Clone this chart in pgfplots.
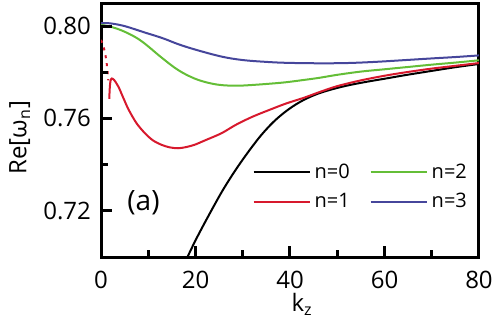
\documentclass[border=0pt]{standalone}
\usepackage{pgfplots}
\pgfplotsset{compat=1.18}
\usepackage{fontspec}
\setmainfont{Open Sans}
\definecolor{cred}{RGB}{215,25,45}
\definecolor{cgreen}{RGB}{100,190,55}
\definecolor{cblue}{RGB}{70,70,155}
\begin{document}
\begin{tikzpicture}
\begin{axis}[
  scale only axis, width=189pt, height=127pt,
  xmin=0, xmax=80, ymin=0.70, ymax=0.81,
  xtick={0,20,40,60,80}, minor xtick={10,30,50,70},
  ytick={0.72,0.76,0.80}, minor ytick={0.74,0.78},
  xtick pos=bottom, ytick pos=left, tick align=inside,
  major tick length=5pt, minor tick length=3.5pt,
  tick style={line width=1.2pt, black},
  clip mode=individual,
  axis line style={line width=1.5pt},
  /pgf/number format/assume math mode=true,
  ticklabel style={font=\fontsize{12}{14}\selectfont},
  yticklabel style={/pgf/number format/fixed,/pgf/number format/fixed zerofill,/pgf/number format/precision=2, xshift=-1.5pt},
  xticklabel style={yshift=-3.5pt},
  xlabel={k\textsubscript{z}},
  ylabel={Re[ω\textsubscript{n}]},
  every axis x label/.style={at={(axis description cs:0.532,-0.215)}, anchor=base, font=\fontsize{12}{14}\selectfont},
  every axis y label/.style={at={(axis description cs:-0.215,0.47)}, rotate=90, anchor=center, font=\fontsize{12}{14}\selectfont},
  legend columns=2,
  legend style={draw=none, fill=none, at={(rel axis cs:0.40,0.385)}, anchor=north west,
    font=\fontsize{10}{12}\selectfont, row sep=2pt, inner sep=0pt,
    /tikz/every even column/.append style={column sep=8pt}},
  legend image code/.code={\draw[#1] (0pt,0pt) -- (28pt,0pt);},
  every axis plot/.append style={line width=1pt},
]
% n=0
\addplot[black, smooth, tension=0.6] coordinates {
(18.3,0.700) (20,0.7072) (22,0.7150) (24.4,0.7240) (26,0.7297)
(28,0.7362) (30,0.7422) (32,0.7478) (34,0.7530) (36.5,0.7585) (39.2,0.7632)
(42,0.7670) (45,0.7700) (48,0.7721) (52,0.7742) (56,0.7758) (60,0.7772) (64.5,0.7788)
(70,0.7806) (75,0.7822) (80,0.7836)};
\addlegendentry{n=0}
% n=2
\addplot[cgreen, smooth, tension=0.6] coordinates {
(0,0.8005) (1.5,0.8000) (3.5,0.7988) (5.8,0.7968) (8,0.7943) (10,0.7912)
(12.8,0.7864) (16.3,0.7810) (19.8,0.7773) (23,0.7753) (25.8,0.7744) (29,0.7742)
(32,0.7745) (36,0.7751) (39.2,0.7757) (43,0.7767) (46.2,0.7776) (50,0.7789)
(55,0.7803) (60,0.7813) (64.5,0.7822) (70,0.7833) (75,0.7842) (80,0.7852)};
\addlegendentry{n=2}
% n=1
\addplot[cred, smooth, tension=0.5] coordinates {
(1.75,0.7685) (1.85,0.7730) (2.0,0.7762) (2.3,0.7773) (2.8,0.7766) (3.7,0.7737)
(4.6,0.7695) (5.8,0.7640) (7.5,0.7580) (9.3,0.7536) (11,0.7505) (12.8,0.7486)
(14.5,0.7475) (16.3,0.7471) (18,0.7476) (19.8,0.7486) (22,0.7505) (25.5,0.7536)
(28.5,0.7572) (32,0.7607) (36,0.7640) (39.2,0.7665) (43,0.7690) (46.2,0.7714)
(50,0.7740) (55,0.7765) (60,0.7785) (64.5,0.7800) (70,0.7816) (75,0.7828) (80,0.7840)};
\addlegendentry{n=1}
\addplot[cred, forget plot, dash pattern=on 1.5pt off 2.5pt] coordinates {
(0,0.7940) (0.5,0.7915) (0.9,0.7880) (1.2,0.7840) (1.4,0.7800) (1.55,0.7765)};
% n=3
\addplot[cblue, smooth, tension=0.6] coordinates {
(0,0.8013) (1.9,0.8012) (5,0.8000) (9.3,0.7972) (13,0.7948) (16.3,0.7922)
(20,0.7898) (25.5,0.7868) (30,0.7853) (35,0.7845) (39.2,0.7841) (46,0.7839)
(52,0.7840) (58,0.7845) (64.5,0.7853) (70,0.7860) (75,0.7866) (80,0.7873)};
\addlegendentry{n=3}
\node[font=\fontsize{14}{16}\selectfont] at (axis cs:9,0.7237) {(a)};
% tick marks (drawn explicitly)
\draw[line width=1.5pt] (axis cs:20,0.70) -- ++(0pt,5.5pt);
\draw[line width=1.5pt] (axis cs:40,0.70) -- ++(0pt,5.5pt);
\draw[line width=1.5pt] (axis cs:60,0.70) -- ++(0pt,5.5pt);
\draw[line width=1.5pt] (axis cs:10,0.70) -- ++(0pt,3.5pt);
\draw[line width=1.5pt] (axis cs:30,0.70) -- ++(0pt,3.5pt);
\draw[line width=1.5pt] (axis cs:50,0.70) -- ++(0pt,3.5pt);
\draw[line width=1.5pt] (axis cs:70,0.70) -- ++(0pt,3.5pt);
\draw[line width=1.5pt] (axis cs:0,0.72) -- ++(5.5pt,0pt);
\draw[line width=1.5pt] (axis cs:0,0.76) -- ++(5.5pt,0pt);
\draw[line width=1.5pt] (axis cs:0,0.80) -- ++(5.5pt,0pt);
\draw[line width=1.5pt] (axis cs:0,0.74) -- ++(3.5pt,0pt);
\draw[line width=1.5pt] (axis cs:0,0.78) -- ++(3.5pt,0pt);
\end{axis}
\path (current axis.south west) ++(-50.5pt,-33pt) coordinate (bbA);
\path (current axis.north east) ++(10.5pt,1.5pt) coordinate (bbB);
\path (bbA) rectangle (bbB);
\end{tikzpicture}
\end{document}
